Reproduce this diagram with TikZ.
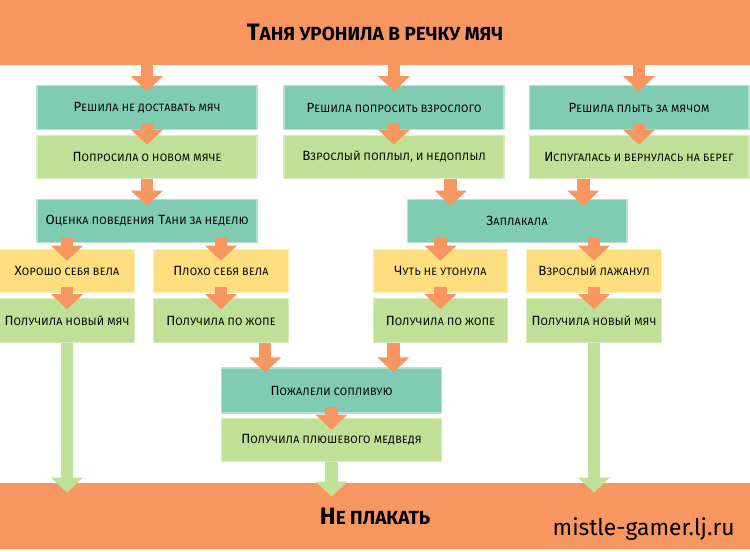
\documentclass[tikz,border=0pt]{standalone}
\usepackage{fontspec}
\setmainfont{Fira Sans}
\usetikzlibrary{arrows.meta,calc}
\definecolor{tanyaO}{HTML}{F79660}
\definecolor{tanyaT}{HTML}{7FCCB2}
\definecolor{tanyaG}{HTML}{C0DF97}
\definecolor{tanyaY}{HTML}{FFDE80}
% small capitals by hand: first letter as is, the rest as smaller capitals
\makeatletter
\newcommand\fakesc[1]{\fakesc@a#1\relax}
\def\fakesc@a#1#2\relax{#1{\@tempdima=\f@size pt\@tempdima=0.8\@tempdima
  \fontsize{\strip@pt\@tempdima}{\f@baselineskip}\selectfont\MakeUppercase{#2}}}
\makeatother
\tikzstyle{banner}=[fill=tanyaO, inner sep=0pt, minimum width=15cm, font=\fontsize{13.5}{15}\selectfont\bfseries]
\tikzstyle{box}=[inner sep=0pt, minimum width=4.4cm, minimum height=0.87cm, line width=0.6pt, font=\fontsize{7.6}{9}\selectfont\addfontfeature{LetterSpace=3}]
\tikzstyle{decision}=[box, fill=tanyaT, draw=tanyaT!60!white]
\tikzstyle{action}=[box, fill=tanyaG, draw=tanyaG!60!white]
\tikzstyle{outcome}=[box, fill=tanyaY, draw=tanyaY!60!white, minimum width=2.69cm]
\tikzstyle{flow}=[tanyaO, line width=0.25cm, -{Triangle[width=0.62cm,length=0.3cm]}]
\tikzstyle{flowend}=[flow, tanyaG]

\begin{document}
\begin{tikzpicture}[x=0.02cm, y=-0.02cm]
\useasboundingbox (0,0) rectangle (750,551);
% Start and end
\node[banner, minimum height=1.3cm] (top) at (375,32.5) {\fakesc{Таня уронила в речку мяч}};
\node[banner, minimum height=1.32cm] (bottom) at (375,516) {\fakesc{Не плакать}};
\node[anchor=base east, inner sep=0pt, font=\fontsize{13}{15}\selectfont] (site) at (735,535) {mistle-gamer.lj.ru};

% Three choices
\node[decision] (r1a) at (147,107.5) {\fakesc{Решила не доставать мяч}};
\node[decision] (r1b) at (394,107.5) {\fakesc{Решила попросить взрослого}};
\node[decision] (r1c) at (639,107.5) {\fakesc{Решила плыть за мячом}};
\node[action] (r2a) at (147,157) {\fakesc{Попросила о новом мяче}};
\node[action] (r2b) at (394,157) {\fakesc{Взрослый поплыл, и недоплыл}};
\node[action] (r2c) at (639,157) {\fakesc{Испугалась и вернулась на берег}};

\node[decision] (r3a) at (147,221) {\fakesc{Оценка поведения} \fakesc{Тани за неделю}};
\node[decision] (r3b) at (517,221) {\fakesc{Заплакала}};

\node[outcome] (r4a) at (67,271) {\fakesc{Хорошо себя вела}};
\node[outcome] (r4b) at (221,271) {\fakesc{Плохо себя вела}};
\node[outcome] (r4c) at (440.5,271) {\fakesc{Чуть не утонула}};
\node[outcome] (r4d) at (594,271) {\fakesc{Взрослый лажанул}};
\node[action, minimum width=2.69cm] (r5a) at (67,320.5) {\fakesc{Получила новый мяч}};
\node[action, minimum width=2.69cm] (r5b) at (221,320.5) {\fakesc{Получила по жопе}};
\node[action, minimum width=2.69cm] (r5c) at (440.5,320.5) {\fakesc{Получила по жопе}};
\node[action, minimum width=2.69cm] (r5d) at (594,320.5) {\fakesc{Получила новый мяч}};

\node[decision, minimum height=0.9cm] (r6) at (331.5,390.5) {\fakesc{Пожалели сопливую}};
\node[action] (r7) at (331.5,440) {\fakesc{Получила плюшевого медведя}};

\coordinate (j1) at ($(r3b.north west)!0.2!(r3b.north east)$);
\coordinate (j2) at ($(r3b.north west)!0.8!(r3b.north east)$);
\coordinate (j3) at ($(r6.north west)!0.2!(r6.north east)$);
\coordinate (j4) at ($(r6.north west)!0.78!(r6.north east)$);

% Arrows
\foreach \n in {r1a,r1b,r1c}{ \draw[flow] (top.south -| \n) -- ([yshift=-0.12cm]\n.north); }
\foreach \a/\b in {r1a/r2a, r1b/r2b, r1c/r2c}{ \draw[flow] ([yshift=0.14cm]\a.south) -- ([yshift=-0.2cm]\b.north); }
\draw[flow] (r2a.south) -- ([yshift=-0.14cm]r3a.north);
\draw[flow] (r2b.south -| j1) -- ([yshift=-0.14cm]j1);
\draw[flow] (r2c.south -| j2) -- ([yshift=-0.14cm]j2);
\foreach \a/\b in {r3a/r4a, r3a/r4b, r3b/r4c, r3b/r4d}{ \draw[flow] ([yshift=0.12cm]\a.south -| \b) -- ([yshift=-0.24cm]\b.north); }
\foreach \a/\b in {r4a/r5a, r4b/r5b, r4c/r5c, r4d/r5d}{ \draw[flow] ([yshift=0.12cm]\a.south) -- ([yshift=-0.22cm]\b.north); }
\draw[flow] (r5b.south -| j3) -- ([yshift=-0.1cm]j3);
\draw[flow] (r5c.south -| j4) -- ([yshift=-0.1cm]j4);
\draw[flow] ([yshift=0.14cm]r6.south) -- ([yshift=-0.24cm]r7.north);
\foreach \n in {r5a,r5d}{ \draw[flowend] (\n.south) -- ([yshift=-0.2cm]bottom.north -| \n); }
\draw[flowend] (r7.south) -- ([yshift=-0.28cm]bottom.north -| r7);
\end{tikzpicture}
\end{document}
